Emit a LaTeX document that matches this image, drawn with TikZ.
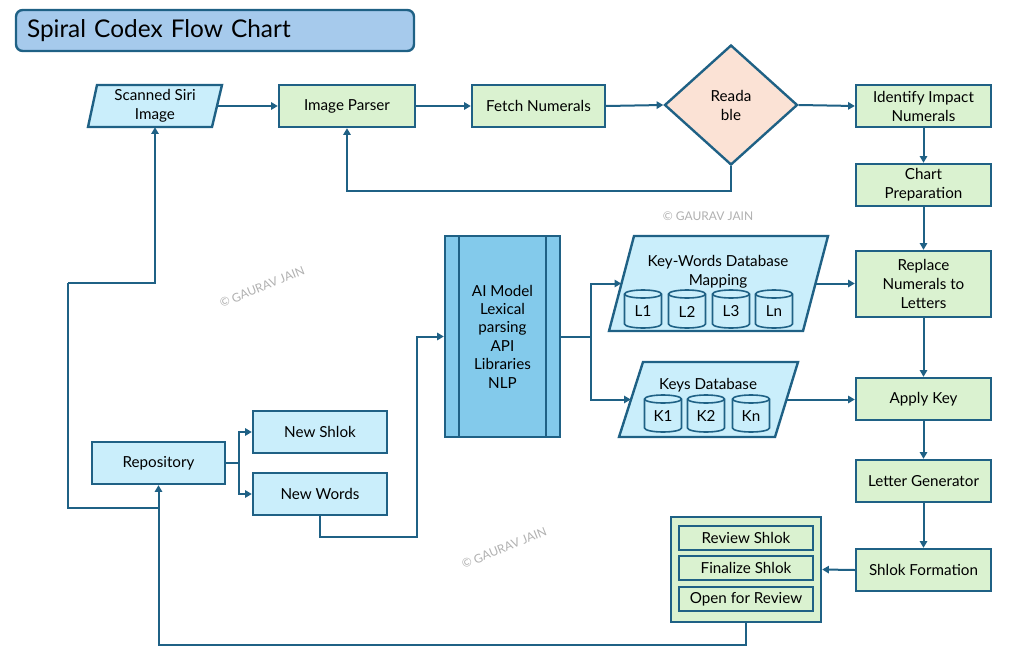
\documentclass[tikz,border=0pt]{standalone}
\usepackage{fontspec}
\setmainfont{Lato}
\usetikzlibrary{shapes.geometric,arrows.meta,calc}
\definecolor{bd}{HTML}{1F6185}
\definecolor{gfill}{HTML}{DAF2D0}
\definecolor{bfill}{HTML}{CAEEFB}
\definecolor{pfill}{HTML}{FBE2D5}
\definecolor{aifill}{HTML}{83CAEB}
\definecolor{tfill}{HTML}{A6CAEC}
\definecolor{wm}{HTML}{B0B0B0}
\newcommand\cylnode[5]{%
  \filldraw[draw=bd, fill=bfill, line width=1.2pt]
    (#2-18.5,#3+4) -- (#2-18.5,#4-4)
    arc[start angle=180,end angle=360,x radius=13.875pt,y radius=3pt]
    -- (#2+18.5,#3+4)
    arc[start angle=0,end angle=180,x radius=13.875pt,y radius=3pt] -- cycle;
  \draw[draw=bd, line width=1.2pt] (#2-18.5,#3+4)
    arc[start angle=180,end angle=360,x radius=13.875pt,y radius=3pt];
  \node[txt] (#1) at (#2,{(#3+#4)/2+2.5}) {#5};}
\begin{document}
\begin{tikzpicture}[x=0.75pt,y=-0.75pt,
  txt/.style={inner sep=0pt, align=center, text=black, font=\fontsize{11.4}{14.3}\selectfont},
  box/.style={txt, draw=bd, line width=1.8pt},
  gbox/.style={box, fill=gfill},
  bbox/.style={box, fill=bfill},
  hidden/.style={txt, draw=none, fill=none},
  para/.style={draw=bd, line width=1.8pt, fill=bfill, line join=miter},
  conn/.style={draw=bd, line width=1.5pt},
  arr/.style={conn, -{Triangle[length=5pt,width=5.5pt]}},
  wmark/.style={text=wm, font=\fontsize{9}{10}\selectfont, inner sep=0pt}
]
\useasboundingbox (0,0) rectangle (1031,656);

% title
\node[draw=bd, fill=tfill, line width=1.8pt, rounded corners=5pt,
      minimum width=298.5pt, minimum height=30.75pt, text width=282pt,
      inner xsep=8.25pt, inner ysep=0pt, align=left,
      font=\fontsize{18.3}{22}\selectfont] (title) at (215,30.5) {Spiral Codex Flow Chart};

% top row
\filldraw[para] (97,85) -- (222,85) -- (212,127) -- (88,127) -- cycle;
\node[hidden, minimum width=93.4pt, minimum height=31.5pt] (siri) at (155,106) {Scanned Siri\\Image};
\node[gbox, minimum width=102pt, minimum height=31.5pt] (parser) at (347,106) {Image Parser};
\node[gbox, minimum width=99.75pt, minimum height=31.5pt] (fetch) at (538.5,106) {Fetch Numerals};
\node[box, diamond, fill=pfill, minimum width=99.75pt, minimum height=90pt] (dia) at (731,105) {Reada\\ble};
\node[gbox, minimum width=101.25pt, minimum height=31.5pt] (identify) at (923.5,106) {Identify Impact\\Numerals};

% right column
\node[gbox, minimum width=101.25pt, minimum height=31.5pt] (chart) at (923.5,185) {Chart\\Preparation};
\node[gbox, minimum width=101.25pt, minimum height=49.5pt] (replace) at (923.5,284) {Replace\\Numerals to\\Letters};
\node[gbox, minimum width=101.25pt, minimum height=31.5pt] (apply) at (923.5,399) {Apply Key};
\node[gbox, minimum width=101.25pt, minimum height=31.5pt] (letter) at (923.5,481) {Letter Generator};
\node[gbox, minimum width=101.25pt, minimum height=31.5pt] (shlok) at (923.5,570) {Shlok Formation};

% review group
\node[gbox, minimum width=112.5pt, minimum height=78.75pt] (rev) at (746,569.5) {};
\node[gbox, minimum width=100.5pt, minimum height=18pt] (r1) at (746,538) {Review Shlok};
\node[gbox, minimum width=100.5pt, minimum height=18pt] (r2) at (746,568) {Finalize Shlok};
\node[gbox, minimum width=100.5pt, minimum height=18pt] (r3) at (746,599) {Open for Review};

% AI model
\node[box, fill=aifill, minimum width=86.25pt, minimum height=150.75pt,
      font=\fontsize{11.4}{13.8}\selectfont] (ai) at (502.5,336.5) {AI Model\\Lexical\\parsing\\API\\Libraries\\NLP};
\draw[draw=bd, line width=1.8pt] (459,236) -- (459,437);
\draw[draw=bd, line width=1.8pt] (546,236) -- (546,437);

% key-words database
\filldraw[para] (634,236) -- (828,236) -- (803,331) -- (609,331) -- cycle;
\node[hidden, minimum width=145.5pt, minimum height=71.25pt] (kw) at (718.5,283.5) {};
\node[txt] (kwt) at (718,271.5) {Key-Words Database\\Mapping};
\cylnode{l1}{643}{290}{328}{L1}
\cylnode{l2}{687}{290}{328}{L2}
\cylnode{l3}{731}{290}{328}{L3}
\cylnode{ln}{774}{290}{328}{Ln}

% keys database
\filldraw[para] (643,362) -- (798,362) -- (775,437) -- (619,437) -- cycle;
\node[hidden, minimum width=116.6pt, minimum height=56.25pt] (keys) at (708.75,399.5) {};
\node[txt] (keyst) at (708,385) {Keys Database};
\cylnode{k1}{663}{395}{432}{K1}
\cylnode{k2}{706}{395}{432}{K2}
\cylnode{kn}{751}{395}{432}{Kn}

% left group
\node[bbox, minimum width=99.75pt, minimum height=31.5pt] (repo) at (158.5,463) {Repository};
\node[bbox, minimum width=100.5pt, minimum height=31.5pt] (newshlok) at (320,432) {New Shlok};
\node[bbox, minimum width=100.5pt, minimum height=31.5pt] (newwords) at (320,494) {New Words};

% watermarks
\node[wmark] (wm1) at (708,216) {© GAURAV JAIN};
\node[wmark, rotate=22] (wm2) at (262,287) {© GAURAV JAIN};
\node[wmark, rotate=22] (wm3) at (504,548) {© GAURAV JAIN};

% connectors
\draw[arr] (siri.east) -- (parser.west);
\draw[arr] (parser.east) -- (fetch.west);
\draw[arr] (fetch.east) -- (dia.west);
\draw[arr] (dia.east) -- (identify.west);
\draw[arr] (dia.south) -- ++(0,25) -| (parser.south);
\draw[arr] (identify.south) -- (chart.north);
\draw[arr] (chart.south) -- (replace.north);
\draw[arr] (replace.south) -- (apply.north);
\draw[arr] (apply.south) -- (letter.north);
\draw[arr] (letter.south) -- (shlok.north);
\draw[arr] (shlok.west) -- (rev.east);
\draw[arr] (rev.south) -- (746,645) -| (repo.south);
\coordinate (j1) at (158.5,508);
\draw[conn] (j1) -| (68,283);
\draw[arr] (68,283) -| (siri.south);
\coordinate (j2) at (239,463);
\draw[conn] (repo.east) -- (j2);
\draw[arr] (j2) |- (newshlok.west);
\draw[arr] (j2) |- (newwords.west);
\coordinate (j3) at (417,537);
\draw[arr] (newwords.south) |- (j3) |- (ai.west);
\coordinate (j4) at (591,336.5);
\draw[conn] (ai.east) -- (j4);
\draw[arr] (j4) |- (kw.west);
\draw[arr] (j4) |- (keys.west);
\draw[arr] (kw.east) -- (kw.east -| replace.west);
\draw[arr] (keys.east) -- (keys.east -| apply.west);
\end{tikzpicture}
\end{document}
